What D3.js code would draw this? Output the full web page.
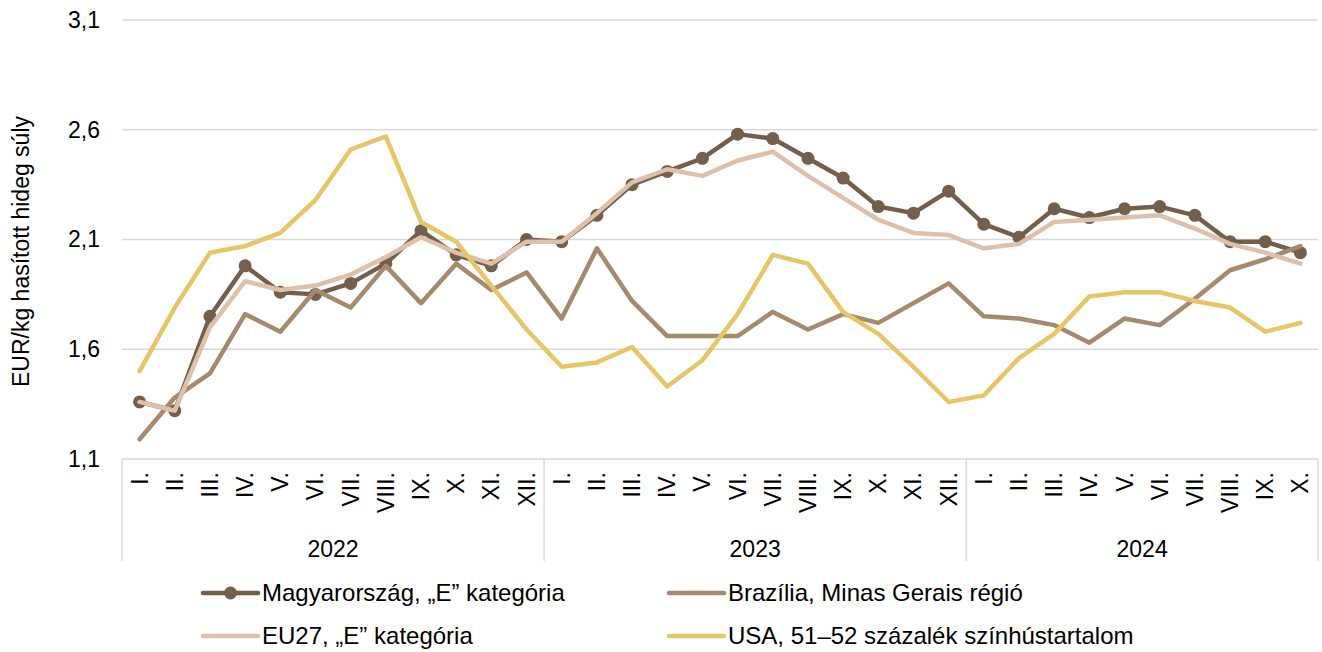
<!DOCTYPE html>
<html>
<head>
<meta charset="utf-8">
<script src="https://cdn.jsdelivr.net/npm/d3@7"></script>
<style>
  html, body { margin: 0; padding: 0; background: #fff; }
  svg { display: block; font-family: 'Liberation Sans', Arial, sans-serif; }
</style>
</head>
<body>
<svg class="chart"></svg>
<script>
const width = 1322
const height = 652

const years = ['2022', '2023', '2024']
const monthsPerYear = [12, 12, 10]
const monthNames = ['I.', 'II.', 'III.', 'IV.', 'V.', 'VI.', 'VII.', 'VIII.', 'IX.', 'X.', 'XI.', 'XII.']
const yTicks = [1.1, 1.6, 2.1, 2.6, 3.1]

const hungary = [1.36, 1.32, 1.75, 1.98, 1.86, 1.85, 1.90, 1.99, 2.14, 2.03, 1.98, 2.10,
  2.09, 2.21, 2.35, 2.41, 2.47, 2.58, 2.56, 2.47, 2.38, 2.25, 2.22, 2.32,
  2.17, 2.11, 2.24, 2.20, 2.24, 2.25, 2.21, 2.09, 2.09, 2.04]
const brazil = [1.19, 1.38, 1.49, 1.76, 1.68, 1.87, 1.79, 1.98, 1.81, 1.99, 1.87, 1.95,
  1.74, 2.06, 1.82, 1.66, 1.66, 1.66, 1.77, 1.69, 1.76, 1.72, 1.81, 1.90,
  1.75, 1.74, 1.71, 1.63, 1.74, 1.71, 1.83, 1.96, 2.01, 2.07]
const eu27 = [1.36, 1.32, 1.70, 1.91, 1.87, 1.89, 1.94, 2.02, 2.11, 2.04, 1.99, 2.09,
  2.09, 2.22, 2.36, 2.42, 2.39, 2.46, 2.50, 2.39, 2.29, 2.19, 2.13, 2.12,
  2.06, 2.08, 2.18, 2.19, 2.20, 2.21, 2.15, 2.08, 2.04, 1.99]
const usa = [1.50, 1.79, 2.04, 2.07, 2.13, 2.28, 2.51, 2.57, 2.18, 2.09, 1.89, 1.69,
  1.52, 1.54, 1.61, 1.43, 1.55, 1.76, 2.03, 1.99, 1.77, 1.67, 1.52, 1.36,
  1.39, 1.56, 1.67, 1.84, 1.86, 1.86, 1.82, 1.79, 1.68, 1.72]

const series = [
  { name: 'Magyarország, „E” kategória', values: hungary, color: '#735f4b', marker: true },
  { name: 'Brazília, Minas Gerais régió', values: brazil, color: '#a68a6e', marker: false },
  { name: 'EU27, „E” kategória', values: eu27, color: '#dfc0aa', marker: false },
  { name: 'USA, 51–52 százalék színhústartalom', values: usa, color: '#e8c567', marker: false }
]

// one entry per month across the years
const months = []
years.forEach((y, yi) => {
  for (let m = 0; m < monthsPerYear[yi]; m++) months.push({ key: y + '-' + m, year: y, label: monthNames[m] })
})

const margin = { top: 20, right: 4, bottom: 193, left: 122 }
const fontSize = 23
const legendFontSize = 24

const x = d3.scaleBand()
  .domain(months.map(d => d.key))
  .range([margin.left, width - margin.right])

const y = d3.scaleLinear()
  .domain([1.1, 3.1])
  .range([height - margin.bottom, margin.top])

const svg = d3.select('.chart')
  .attr('width', width)
  .attr('height', height)

// gridlines
svg.append('g')
  .selectAll('line')
  .data(yTicks)
  .enter().append('line')
  .attr('x1', margin.left)
  .attr('x2', width - margin.right)
  .attr('y1', d => y(d))
  .attr('y2', d => y(d))
  .attr('stroke', '#d9d9d9')
  .attr('stroke-width', 1.5)

// y axis labels
const yAxis = svg.append('g')
  .attr('transform', `translate(${margin.left - 22},0)`)
  .call(d3.axisLeft(y).tickValues(yTicks).tickSize(0).tickPadding(0)
    .tickFormat(d => d3.format('.1f')(d).replace('.', ',')))
yAxis.select('.domain').remove()
yAxis.selectAll('text')
  .attr('font-size', fontSize)
  .attr('font-family', 'Liberation Sans, Arial, sans-serif')
  .attr('fill', '#000')

svg.append('text')
  .attr('transform', `translate(29,${(y.range()[0] + y.range()[1]) / 2 + 12}) rotate(-90)`)
  .attr('text-anchor', 'middle')
  .attr('font-size', fontSize)
  .text('EUR/kg hasított hideg súly')

// x axis: months + year groups
const axisY = y(1.1)
const groupBottom = 561

svg.append('g')
  .selectAll('text')
  .data(months)
  .enter().append('text')
  .attr('transform', d => `translate(${x(d.key) + x.bandwidth() / 2 + 8},${axisY + 13}) rotate(-90)`)
  .attr('text-anchor', 'end')
  .attr('font-size', fontSize)
  .text(d => d.label)

const groups = years.map(yr => {
  const keys = months.filter(d => d.year === yr).map(d => d.key)
  return { year: yr, x0: x(keys[0]), x1: x(keys[keys.length - 1]) + x.bandwidth() }
})

const seps = [groups[0].x0].concat(groups.map(g => g.x1))
svg.append('g')
  .selectAll('line')
  .data(seps)
  .enter().append('line')
  .attr('x1', d => d)
  .attr('x2', d => d)
  .attr('y1', axisY)
  .attr('y2', groupBottom)
  .attr('stroke', '#d9d9d9')
  .attr('stroke-width', 1.5)

svg.append('g')
  .selectAll('text')
  .data(groups)
  .enter().append('text')
  .attr('x', d => (d.x0 + d.x1) / 2)
  .attr('y', 557)
  .attr('text-anchor', 'middle')
  .attr('font-size', fontSize)
  .text(d => d.year)

// lines
const line = d3.line()
  .x((d, i) => x(months[i].key) + x.bandwidth() / 2)
  .y(d => y(d))

const plot = svg.append('g')
series.forEach(s => {
  plot.append('path')
    .datum(s.values)
    .attr('fill', 'none')
    .attr('stroke', s.color)
    .attr('stroke-width', 4.5)
    .attr('stroke-linejoin', 'round')
    .attr('stroke-linecap', 'round')
    .attr('d', line)
  if (s.marker) {
    plot.append('g')
      .selectAll('circle')
      .data(s.values)
      .enter().append('circle')
      .attr('cx', (d, i) => x(months[i].key) + x.bandwidth() / 2)
      .attr('cy', d => y(d))
      .attr('r', 6.5)
      .attr('fill', s.color)
  }
})

// legend
const legendPos = [[203, 593], [669, 593], [203, 636], [669, 636]]
const legend = svg.append('g')
  .selectAll('g')
  .data(series)
  .enter().append('g')
  .attr('transform', (d, i) => `translate(${legendPos[i][0]},${legendPos[i][1]})`)

legend.append('line')
  .attr('x1', 0)
  .attr('x2', 55)
  .attr('stroke', d => d.color)
  .attr('stroke-width', 4.5)
  .attr('stroke-linecap', 'round')

legend.filter(d => d.marker).append('circle')
  .attr('cx', 27.5)
  .attr('r', 6.5)
  .attr('fill', d => d.color)

legend.append('text')
  .attr('x', 59)
  .attr('dy', '0.35em')
  .attr('font-size', legendFontSize)
  .text(d => d.name)
</script>
</body>
</html>
